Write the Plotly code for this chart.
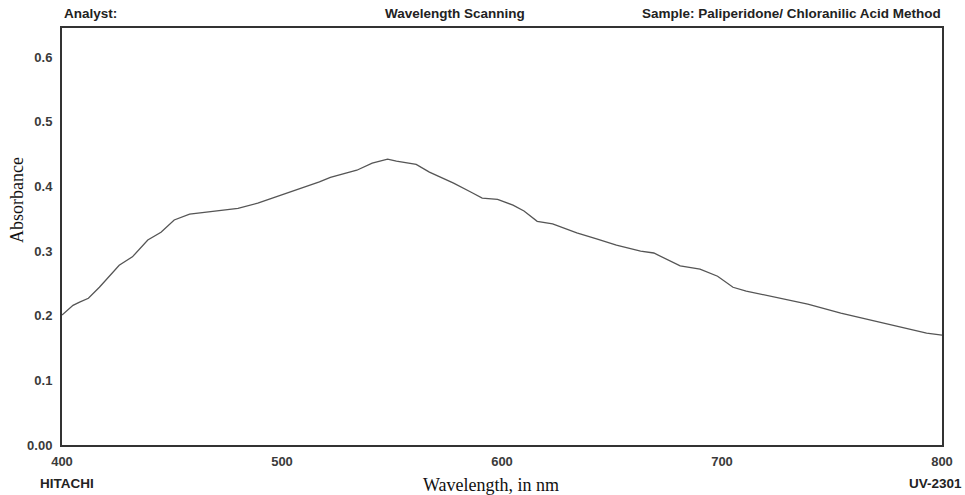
import plotly.graph_objects as go

wavelength = [400, 405, 408, 412, 417, 426, 432, 439, 445, 451, 458, 466, 480, 489, 496,
              505, 517, 522, 534, 541, 548, 552, 561, 567, 573, 578, 586, 591, 598, 605,
              610, 616, 623, 634, 643, 652, 663, 669, 681, 690, 698, 705, 711, 731, 739,
              754, 769, 782, 793, 800]
absorbance = [0.201, 0.216, 0.221, 0.227, 0.244, 0.278, 0.291, 0.317, 0.329, 0.348, 0.357,
              0.360, 0.366, 0.374, 0.382, 0.393, 0.407, 0.414, 0.425, 0.436, 0.442, 0.439,
              0.434, 0.422, 0.413, 0.405, 0.391, 0.382, 0.380, 0.371, 0.362, 0.346, 0.342,
              0.328, 0.319, 0.309, 0.300, 0.297, 0.277, 0.272, 0.261, 0.244, 0.238, 0.224,
              0.218, 0.204, 0.192, 0.182, 0.173, 0.170]

x_ticks = [400, 500, 600, 700, 800]
x_tick_text = ["400", "500", "600", "700", "800"]
y_ticks = [0.0, 0.1, 0.2, 0.3, 0.4, 0.5, 0.6]
y_tick_text = ["0.00", "0.1", "0.2", "0.3", "0.4", "0.5", "0.6"]

fig = go.Figure()
fig.add_trace(go.Scatter(x=wavelength, y=absorbance, mode="lines",
                         line=dict(color="#555555", width=1.3), hoverinfo="skip"))

tick_font = dict(family="Liberation Sans", size=13, color="#3a3a3a")
fig.update_layout(
    width=965, height=495,
    margin=dict(l=62, r=23, t=28, b=50),
    paper_bgcolor="white", plot_bgcolor="white",
    showlegend=False,
    xaxis=dict(range=[400, 800], tickvals=x_ticks,
               ticktext=["<b>%s</b>" % t for t in x_tick_text],
               showgrid=False, zeroline=False,
               showline=True, linecolor="#333333", linewidth=2, mirror=True,
               ticks="", tickfont=tick_font, ticklabelstandoff=3),
    yaxis=dict(range=[0, 0.645], tickvals=y_ticks,
               ticktext=["<b>%s</b>" % t for t in y_tick_text], showgrid=False,
               zeroline=False, showline=True, linecolor="#333333", linewidth=2, mirror=True,
               ticks="", tickfont=tick_font, ticklabelstandoff=5),
)

bold = dict(family="Liberation Sans", size=13.5, color="#222222")
serif = dict(family="Liberation Serif", size=18, color="#111111")
ann = [
    dict(text="<b>Analyst:</b>", x=62, y=13, xanchor="left", font=bold),
    dict(text="<b>Wavelength Scanning</b>", x=455, y=13, xanchor="center", font=bold),
    dict(text="<b>Sample: Paliperidone/ Chloranilic Acid Method</b>", x=943, y=13,
         xanchor="right", font=bold),
    dict(text="<b>HITACHI</b>", x=38, y=483, xanchor="left", font=bold),
    dict(text="<b>UV-2301</b>", x=964, y=483, xanchor="right", font=bold),
    dict(text="Wavelength, in nm", x=491, y=485, xanchor="center", font=serif),
]
pw, ph = 965 - 62 - 23, 495 - 28 - 50
for a in ann:
    fig.add_annotation(text=a["text"], x=(a["x"] - 62) / pw, y=(445 - a["y"]) / ph,
                       xref="paper", yref="paper", xanchor=a["xanchor"], yanchor="middle",
                       showarrow=False, font=a["font"])
fig.add_annotation(text="Absorbance", x=(17 - 62) / pw, y=(445 - 200) / ph, xref="paper",
                   yref="paper", textangle=-90, showarrow=False, font=serif,
                   xanchor="center", yanchor="middle")

fig.write_html("out.html", config={"displayModeBar": False},
               post_script="document.body.style.margin='0';")
